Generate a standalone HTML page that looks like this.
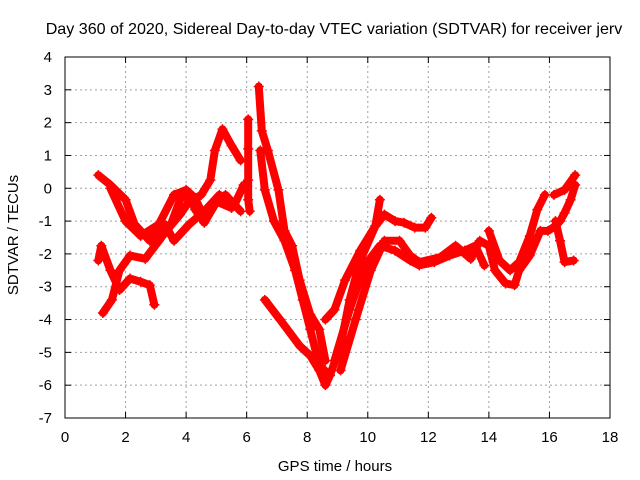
<!DOCTYPE html>
<html><head><meta charset="utf-8"><style>
body{margin:0;background:#fff}
svg{display:block;font-family:"Liberation Sans",sans-serif;font-size:15px}
</style></head><body>
<svg id="chart" width="640" height="480">
<text x="334" y="34" text-anchor="middle" font-size="16.1">Day 360 of 2020, Sidereal Day-to-day VTEC variation (SDTVAR) for receiver jerv</text>
<text x="335" y="471" text-anchor="middle">GPS time / hours</text>
<text transform="translate(18,235) rotate(-90)" text-anchor="middle">SDTVAR / TECUs</text>
<g id="grid"></g>
<g id="ticks"></g>
<g id="series"></g>
<rect x="65" y="57" width="545" height="361" fill="none" stroke="#000"/>
</svg>
<script>
const xTicks=[0,2,4,6,8,10,12,14,16,18];
const yTicks=[4,3,2,1,0,-1,-2,-3,-4,-5,-6,-7];
const trackA=[[1.1,0.4],[1.5,0.1],[2.0,-0.35],[2.3,-1.1],[2.8,-1.6],[3.3,-1.35],[3.8,-0.8],[4.1,-0.4],[4.5,-0.2],[4.8,0.25],[4.95,1.15],[5.2,1.8],[5.5,1.3],[5.8,0.85]];
const trackB=[[1.5,0.0],[2.0,-1.0],[2.5,-1.45],[3.1,-1.1],[3.6,-0.2],[4.0,-0.05],[4.3,-0.3],[4.6,-0.9],[5.0,-0.4],[5.5,-0.6]];
const trackC=[[1.1,-2.2],[1.2,-1.75],[1.5,-2.5],[1.8,-3.1],[2.15,-2.75],[2.5,-2.85],[2.8,-2.95],[2.95,-3.55]];
const trackD=[[1.25,-3.8],[1.55,-3.4],[1.8,-2.5],[2.15,-2.05],[2.65,-2.15],[3.1,-1.6],[3.5,-1.1],[3.8,-0.35],[4.05,-0.1],[4.3,-0.65],[4.6,-1.05],[4.95,-0.5],[5.3,-0.2],[5.8,-0.7]];
const trackE=[[2.8,-1.45],[3.3,-1.1],[3.6,-1.6],[4.1,-1.1],[4.6,-0.7],[5.1,-0.2],[5.6,-0.5],[5.9,0.1]];
const trackF=[[6.05,2.1],[6.05,1.2],[6.05,0.25],[6.05,-0.35],[6.1,-0.7]];
const trackG=[[6.4,3.1],[6.5,1.75],[6.7,1.15],[7.05,-0.05],[7.25,-1.3],[7.5,-1.75],[7.75,-2.8],[8.1,-3.85],[8.4,-4.3],[8.6,-5.25]];
const trackH=[[6.45,1.15],[6.6,-0.05],[6.9,-1.0],[7.25,-1.6],[7.6,-2.5],[7.85,-3.4],[8.1,-4.3],[8.4,-5.4],[8.75,-5.7]];
const trackI=[[6.6,-3.4],[7.1,-4.0],[7.75,-4.8],[8.1,-5.1],[8.4,-5.55],[8.6,-6.0],[8.75,-5.7],[9.1,-4.8],[9.4,-3.4],[9.75,-2.2],[10.25,-1.15],[10.4,-0.35]];
const trackJ=[[8.6,-4.0],[8.9,-3.7],[9.25,-2.8],[9.75,-1.9],[10.25,-1.15],[10.55,-0.8],[10.9,-1.0],[11.2,-1.05],[11.55,-1.2],[11.9,-1.2],[12.1,-0.9]];
const trackK=[[8.9,-5.25],[9.4,-3.7],[9.9,-2.35],[10.4,-1.75],[10.9,-1.9],[11.4,-2.2],[11.7,-2.35],[12.2,-2.25],[12.7,-2.05],[13.2,-1.9],[13.55,-1.75],[13.85,-2.35]];
const trackL=[[9.1,-5.55],[9.6,-4.0],[10.1,-2.5],[10.55,-1.6],[11.05,-1.6],[11.4,-2.05],[11.7,-2.25],[12.4,-2.1],[12.9,-1.75],[13.4,-2.15],[13.7,-1.6],[14.0,-1.75],[14.2,-2.5],[14.55,-2.9],[14.85,-2.95],[15.0,-2.5],[15.35,-2.05],[15.7,-1.3],[15.95,-1.3],[16.2,-1.15],[16.35,-1.0],[16.5,-0.75],[16.7,-0.35],[16.85,0.1]];
const trackM=[[14.0,-1.3],[14.35,-2.2],[14.7,-2.5],[15.0,-2.25],[15.35,-1.45],[15.6,-0.65],[15.85,-0.2]];
const trackN=[[16.2,-1.0],[16.35,-1.6],[16.5,-2.25],[16.8,-2.2]];
const trackO=[[16.15,-0.2],[16.5,-0.05],[16.85,0.4]];
const tracks=[trackA,trackB,trackC,trackD,trackE,trackF,trackG,trackH,trackI,trackJ,trackK,trackL,trackM,trackN,trackO];
const NS='http://www.w3.org/2000/svg';
const X0=65,X1=610,Y0=418,Y1=57;
function sx(h){return X0+(h-0)/18*(X1-X0);}
function sy(v){return Y0-(v+7)/11*(Y0-Y1);}
function mk(tag,attrs,parent){const e=document.createElementNS(NS,tag);for(const k in attrs)e.setAttribute(k,attrs[k]);parent.appendChild(e);return e;}
const grid=document.getElementById('grid'),ticks=document.getElementById('ticks'),ser=document.getElementById('series');
xTicks.forEach(t=>{const x=sx(t);
 if(t>0&&t<18){const g=mk('line',{x1:x,x2:x,y1:Y0,y2:Y1,stroke:'#a0a0a0','stroke-dasharray':'2,3'},grid);
 
 }
 mk('line',{x1:x,x2:x,y1:Y0,y2:Y0-6,stroke:'#000'},ticks);
 mk('line',{x1:x,x2:x,y1:Y1,y2:Y1+6,stroke:'#000'},ticks);
 const l=mk('text',{x:x,y:Y0+24,'text-anchor':'middle'},ticks);l.textContent=t;
 
 
});
yTicks.forEach(t=>{const y=sy(t);
 if(t>-7&&t<4){const g=mk('line',{x1:X0,x2:X1,y1:y,y2:y,stroke:'#a0a0a0','stroke-dasharray':'2,3'},grid);
 
 }
 mk('line',{x1:X0,x2:X0+6,y1:y,y2:y,stroke:'#000'},ticks);
 mk('line',{x1:X1,x2:X1-6,y1:y,y2:y,stroke:'#000'},ticks);
 const l=mk('text',{x:52,y:y+5,'text-anchor':'end'},ticks);l.textContent=t;
 
 
});
tracks.forEach((tr,i)=>{
 const p=mk('polyline',{points:tr.map(d=>sx(d[0])+','+sy(d[1])).join(' '),fill:'none',stroke:'#ff0000','stroke-width':8,'stroke-linejoin':'round','stroke-linecap':'round'},ser);
 
 
 tr.forEach(d=>{const x=sx(d[0]),y=sy(d[1]);
  const m=mk('path',{d:`M${x-5},${y}h10M${x},${y-5}v10`,stroke:'#ff0000','stroke-width':1.5},ser);
  
  
 });
});
</script>
</body></html>
